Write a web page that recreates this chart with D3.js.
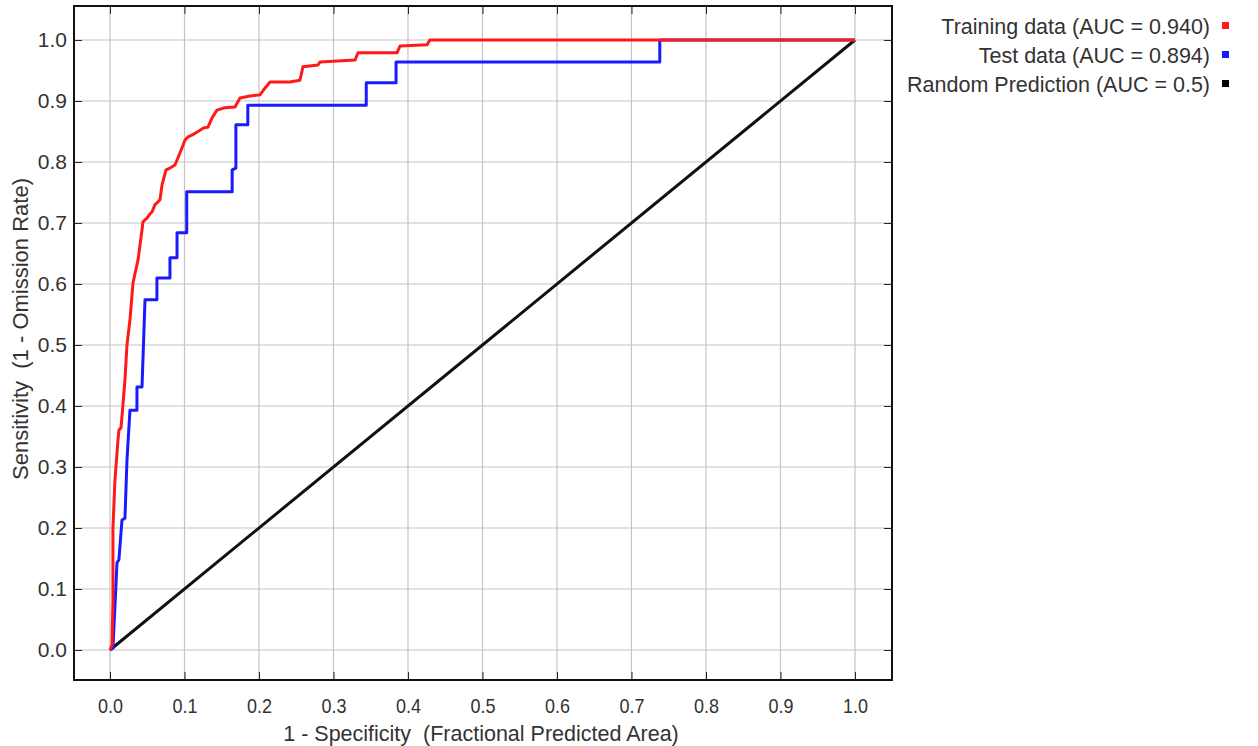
<!DOCTYPE html>
<html><head><meta charset="utf-8">
<script src="https://cdn.jsdelivr.net/npm/d3@7"></script>
<style>body{margin:0;background:#fff;} text{font-family:"Liberation Sans",Arial,sans-serif;}</style>
</head><body><svg id="c" width="1258" height="746"></svg>
<script>
const ticks = [0,0.1,0.2,0.3,0.4,0.5,0.6,0.7,0.8,0.9,1.0];
const trainX = [0,0.0027,0.004,0.004,0.0067,0.0107,0.0121,0.0148,0.0174,0.0201,0.0228,0.0268,0.0309,0.0376,0.043,0.0443,0.0497,0.0537,0.0564,0.0604,0.0631,0.0671,0.0698,0.0752,0.0805,0.0872,0.0913,0.0966,0.1007,0.1047,0.11,0.1154,0.1208,0.1262,0.1315,0.1369,0.1436,0.1544,0.1678,0.1745,0.1879,0.2013,0.208,0.2148,0.2416,0.255,0.259,0.2792,0.2819,0.3289,0.3329,0.3852,0.3893,0.4255,0.4295,1];
const trainY = [0,0.0082,0.082,0.2,0.279,0.344,0.361,0.364,0.402,0.443,0.5,0.541,0.602,0.639,0.689,0.702,0.708,0.715,0.718,0.730,0.733,0.738,0.762,0.787,0.790,0.795,0.807,0.823,0.836,0.841,0.844,0.848,0.852,0.856,0.857,0.872,0.885,0.889,0.890,0.905,0.908,0.910,0.921,0.931,0.931,0.934,0.956,0.959,0.964,0.967,0.979,0.979,0.990,0.992,1,1];
const testX = [0,0.004,0.0094,0.012,0.0161,0.0201,0.0228,0.0268,0.0362,0.0362,0.043,0.047,0.063,0.063,0.0805,0.0805,0.09,0.09,0.103,0.103,0.164,0.164,0.169,0.169,0.185,0.185,0.344,0.344,0.384,0.384,0.738,0.738,1];
const testY = [0,0.003,0.143,0.148,0.213,0.216,0.311,0.393,0.393,0.431,0.431,0.574,0.574,0.61,0.61,0.643,0.643,0.684,0.684,0.751,0.751,0.787,0.79,0.861,0.861,0.893,0.893,0.93,0.93,0.964,0.964,1,1];
const randX = [0,1];
const randY = [0,1];
const legendLabels = ["Training data (AUC = 0.940)","Test data (AUC = 0.894)","Random Prediction (AUC = 0.5)"];
const legendColors = ["#ff1a1a","#1a1aff","#000000"];

const svg = d3.select("#c");
const L=74,R=892,T=6,B=680;
const x = d3.scaleLinear().domain([-0.0483,1.0497]).range([L,R]);
const y = d3.scaleLinear().domain([-0.0492,1.0557]).range([B,T]);

// grid
const g = svg.append("g");
g.selectAll(".vg").data(ticks).join("line").attr("x1",d=>x(d)).attr("x2",d=>x(d)).attr("y1",T).attr("y2",B).attr("stroke","#c4c4c4").attr("stroke-width",1.2);
g.selectAll(".hg").data(ticks).join("line").attr("y1",d=>y(d)).attr("y2",d=>y(d)).attr("x1",L).attr("x2",R).attr("stroke","#c4c4c4").attr("stroke-width",1.2);

// inner ticks via axes
const tk=8;
svg.append("g").attr("transform",`translate(0,${B})`).call(d3.axisTop(x).tickValues(ticks).tickSize(tk).tickFormat("")).call(a=>a.select(".domain").remove()).selectAll("line").attr("stroke","#222");
svg.append("g").attr("transform",`translate(0,${T})`).call(d3.axisBottom(x).tickValues(ticks).tickSize(tk).tickFormat("")).call(a=>a.select(".domain").remove()).selectAll("line").attr("stroke","#222");
svg.append("g").attr("transform",`translate(${L},0)`).call(d3.axisRight(y).tickValues(ticks).tickSize(tk).tickFormat("")).call(a=>a.select(".domain").remove()).selectAll("line").attr("stroke","#222");
svg.append("g").attr("transform",`translate(${R},0)`).call(d3.axisLeft(y).tickValues(ticks).tickSize(tk).tickFormat("")).call(a=>a.select(".domain").remove()).selectAll("line").attr("stroke","#222");

// tick labels
svg.append("g").attr("transform",`translate(0,${B})`).call(d3.axisBottom(x).tickValues(ticks).tickSize(0).tickPadding(18).tickFormat(d3.format(".1f")))
  .call(a=>a.select(".domain").remove()).selectAll("text").attr("font-size",21).attr("fill","#333").attr("font-family","Liberation Sans, Arial, sans-serif")
  .attr("textLength",25).attr("lengthAdjust","spacingAndGlyphs");
svg.append("g").attr("transform",`translate(${L},0)`).call(d3.axisLeft(y).tickValues(ticks).tickSize(0).tickPadding(7).tickFormat(d3.format(".1f")))
  .call(a=>a.select(".domain").remove()).selectAll("text").attr("font-size",21).attr("fill","#333").attr("font-family","Liberation Sans, Arial, sans-serif");

// lines
const line = d3.line().x(d=>x(d[0])).y(d=>y(d[1]));
const mk=(xs,ys)=>xs.map((v,i)=>[v,ys[i]]);
svg.append("path").attr("d",line(mk(randX,randY))).attr("fill","none").attr("stroke","#111").attr("stroke-width",3);
svg.append("path").attr("d",line(mk(testX,testY))).attr("fill","none").attr("stroke",legendColors[1]).attr("stroke-width",3).attr("stroke-linejoin","round");
svg.append("path").attr("d",line(mk(trainX,trainY))).attr("fill","none").attr("stroke",legendColors[0]).attr("stroke-width",3).attr("stroke-linejoin","round");

// frame
svg.append("rect").attr("x",L).attr("y",T).attr("width",R-L).attr("height",B-T).attr("fill","none").attr("stroke","#111").attr("stroke-width",2);

// titles
svg.append("text").attr("x",481).attr("y",741).attr("text-anchor","middle").attr("font-size",21.5).attr("fill","#333").text("1 - Specificity  (Fractional Predicted Area)").style("white-space","pre");
svg.append("text").attr("transform","translate(28,329) rotate(-90)").attr("text-anchor","middle").attr("font-size",22).attr("fill","#333").text("Sensitivity  (1 - Omission Rate)").style("white-space","pre");

// legend
const lg = svg.append("g");
legendLabels.forEach((t,i)=>{
  const cy = 27 + i*29;
  lg.append("text").attr("x",1210).attr("y",cy+7).attr("text-anchor","end").attr("font-size",21.5).attr("fill","#333").text(t);
  lg.append("rect").attr("x",1222).attr("y",cy-5).attr("width",7).attr("height",7).attr("fill",legendColors[i]);
});
</script></body></html>
